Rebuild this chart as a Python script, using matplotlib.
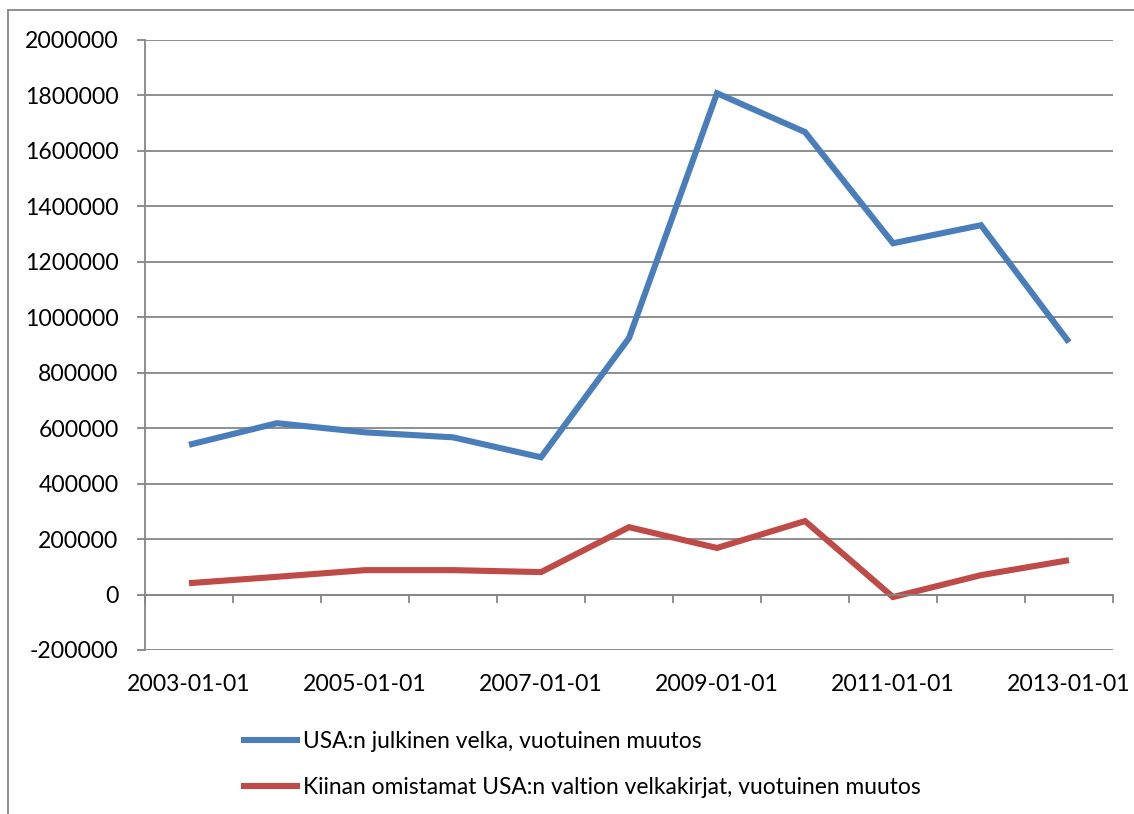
import matplotlib.pyplot as plt
from matplotlib.lines import Line2D

# data
dates = ['2003-01-01', '2004-01-01', '2005-01-01', '2006-01-01', '2007-01-01', '2008-01-01',
         '2009-01-01', '2010-01-01', '2011-01-01', '2012-01-01', '2013-01-01']
usa_debt = [540000, 618000, 585000, 567000, 495000, 925000,
            1808000, 1668000, 1267000, 1332000, 910000]
china_holdings = [41000, 64000, 88000, 88000, 81000, 243000,
                  168000, 265000, -9000, 70000, 124000]
labels = ['USA:n julkinen velka, vuotuinen muutos',
          'Kiinan omistamat USA:n valtion velkakirjat, vuotuinen muutos']
yticks = list(range(-200000, 2000001, 200000))

plt.rcParams['font.family'] = ['Lato', 'DejaVu Sans']
grid_col = '#868686'

fig = plt.figure(figsize=(11.34, 8.14), dpi=100)
ax = fig.add_axes([145 / 1134, 1 - 650 / 814, 968 / 1134, 610 / 814])

x = list(range(len(dates)))
l1, = ax.plot(x, usa_debt, color='#4A7EBB', lw=4.4, solid_joinstyle='miter', solid_capstyle='butt')
l2, = ax.plot(x, china_holdings, color='#BE4B48', lw=4.4, solid_joinstyle='miter', solid_capstyle='butt')

ax.set_xlim(-0.5, len(dates) - 0.5)
ax.set_ylim(-200000, 2000000)
ax.set_yticks(yticks)
ax.set_yticklabels([str(v) for v in yticks], fontsize=16.6)
ax.yaxis.grid(True, color=grid_col, lw=1.3)
ax.set_axisbelow(True)
ax.tick_params(axis='y', length=6, width=1.3, color=grid_col, pad=13)

for s in ['top', 'right']:
    ax.spines[s].set_visible(False)
ax.spines['left'].set_color(grid_col)
ax.spines['left'].set_linewidth(1.3)
ax.spines['bottom'].set_position(('data', 0))
ax.spines['bottom'].set_color(grid_col)
ax.spines['bottom'].set_linewidth(1.3)

# tick marks at category boundaries, labels below the plot area
ax.set_xticks([i - 0.5 for i in range(len(dates) + 1)])
ax.set_xticklabels([])
ax.tick_params(axis='x', length=6, width=1.3, color=grid_col, direction='out')
for i, d in enumerate(dates):
    if i % 2 == 0:
        ax.text(i, -0.057, d, transform=ax.get_xaxis_transform(),
                ha='center', va='center', fontsize=16.6)

fig.legend([l1, l2], labels, loc='upper left', bbox_to_anchor=(232 / 1134, 1 - 722 / 814),
           frameon=False, fontsize=16.4, handlelength=2.6, handletextpad=0.1,
           labelspacing=1.1, borderaxespad=0)

# outer chart frame
fig.add_artist(Line2D([8 / 1134, 1], [1 - 10 / 814, 1 - 10 / 814], color=grid_col, lw=1.3))
fig.add_artist(Line2D([8 / 1134, 8 / 1134], [0, 1 - 10 / 814], color=grid_col, lw=1.3))

plt.savefig('out.png', dpi=100)
